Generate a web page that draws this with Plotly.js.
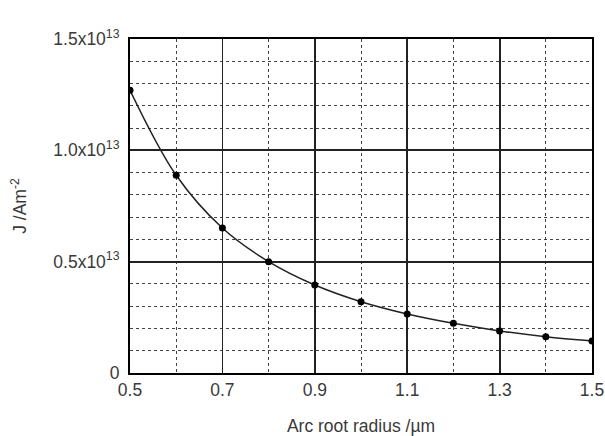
<!DOCTYPE html>
<html>
<head>
<meta charset="utf-8">
<script src="https://cdn.plot.ly/plotly-3.0.1.min.js"></script>
<style>html,body{margin:0;padding:0;background:#fff;}#chart{width:605px;height:436px;}</style>
</head>
<body>
<div id="chart"></div>
<script>
const radius = [0.5, 0.6, 0.7, 0.8, 0.9, 1.0, 1.1, 1.2, 1.3, 1.4, 1.5];
const currentDensity = [1.27e13, 0.888e13, 0.651e13, 0.5e13, 0.395e13, 0.32e13, 0.265e13, 0.223e13, 0.189e13, 0.163e13, 0.144e13];
const xTickVals = [0.5, 0.7, 0.9, 1.1, 1.3, 1.5];
const xTickText = ["0.5", "0.7", "0.9", "1.1", "1.3", "1.5"];
const xMinorVals = [0.6, 0.8, 1.0, 1.2, 1.4];
const yTickVals = [0, 0.5e13, 1.0e13, 1.5e13];
const yTickText = ["0", "0.5x10<sup>13</sup>", "1.0x10<sup>13</sup>", "1.5x10<sup>13</sup>"];
const yMinorVals = [0.1e13, 0.2e13, 0.3e13, 0.4e13, 0.6e13, 0.7e13, 0.8e13, 0.9e13, 1.1e13, 1.2e13, 1.3e13, 1.4e13];

const fontFamily = "Liberation Sans, Arial, sans-serif";
const textColor = "#3a3a3a";
const trace = {
  x: radius, y: currentDensity,
  type: "scatter", mode: "lines+markers",
  line: {shape: "spline", color: "#222", width: 1.5},
  marker: {color: "#000", size: 7},
  showlegend: false, hoverinfo: "skip"
};
const layout = {
  width: 605, height: 436,
  margin: {l: 129.5, r: 13, t: 39, b: 63},
  paper_bgcolor: "#fff", plot_bgcolor: "#fff",
  font: {family: fontFamily, size: 17.5, color: textColor},
  xaxis: {
    range: [0.5, 1.5], tickmode: "array", tickvals: xTickVals, ticktext: xTickText,
    showgrid: true, gridcolor: "#222", gridwidth: 1.8,
    showline: true, linecolor: "#000", linewidth: 2, mirror: true,
    ticks: "", zeroline: false,
    minor: {tickmode: "array", tickvals: xMinorVals, showgrid: true, gridcolor: "#444", gridwidth: 1, griddash: "dot", ticks: ""},
    title: {text: "Arc root radius /µm", font: {size: 17.5, color: textColor}, standoff: 23},
    automargin: false
  },
  yaxis: {
    range: [0, 1.5e13], tickmode: "array", tickvals: yTickVals, ticktext: yTickText,
    showgrid: true, gridcolor: "#222", gridwidth: 1.8,
    showline: true, linecolor: "#000", linewidth: 2, mirror: true,
    ticks: "", zeroline: false, ticklabelstandoff: 5,
    minor: {tickmode: "array", tickvals: yMinorVals, showgrid: true, gridcolor: "#444", gridwidth: 1, griddash: "dot", ticks: ""},
    title: {text: "J /Am<sup>-2</sup>", font: {size: 17.5, color: textColor}, standoff: 22},
    automargin: false
  }
};
Plotly.newPlot("chart", [trace], layout, {staticPlot: true, displayModeBar: false});
</script>
</body>
</html>
